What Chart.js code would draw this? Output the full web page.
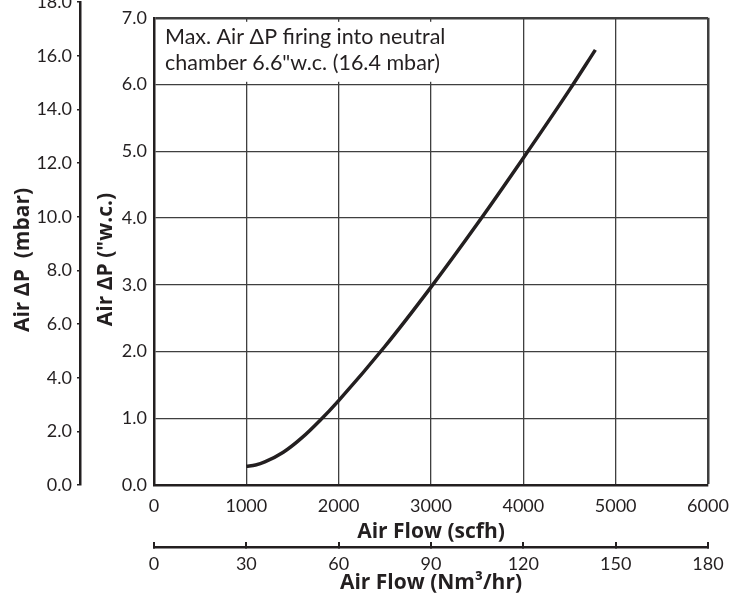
<!DOCTYPE html>
<html>
<head>
<meta charset="utf-8">
<script src="https://cdn.jsdelivr.net/npm/chart.js@4.4.0/dist/chart.umd.min.js"></script>
<style>
  html, body { margin: 0; padding: 0; background: #fff; }
  #wrap { width: 745px; height: 596px; }
</style>
</head>
<body>
<div id="wrap"><canvas id="myChart" width="745" height="596"></canvas></div>
<script>
// curve
const airFlowScfh = [1000, 1100, 1200, 1400, 1600, 1800, 2000, 2500, 3000, 3500, 4000, 4500, 4780];
const airDpWc     = [0.28, 0.30, 0.345, 0.49, 0.705, 0.97, 1.265, 2.075, 2.965, 3.91, 4.90, 5.92, 6.52];

// tick labels
const scfhTicks = [0, 1000, 2000, 3000, 4000, 5000, 6000];
const nm3Ticks  = [0, 30, 60, 90, 120, 150, 180];
const wcTicks   = [0, 1, 2, 3, 4, 5, 6, 7];
const mbarTicks = [0, 2, 4, 6, 8, 10, 12, 14, 16, 18];

const MBAR_PER_WC = 2.4884;
const noteLines = ['Max. Air \u0394P firing into neutral', 'chamber 6.6"w.c. (16.4 mbar)'];

const INK = '#231f20';
const GRID = '#3f3f3f';
const tickFont = { size: 18 };
const titleFont = { family: '"Open Sans", Lato, sans-serif', size: 21, weight: 'bold' };

Chart.defaults.font.family = 'Lato, "DejaVu Sans", sans-serif';
Chart.defaults.color = INK;

const toTicks = arr => scale => { scale.ticks = arr.map(v => ({ value: v })); };

// the mbar axis is the w.c. axis converted, so stretch it to match
const mbarAlign = {
  id: 'mbarAlign',
  afterLayout(chart) {
    const y = chart.scales.y;
    const mb = chart.scales.mbar;
    mb.bottom = y.getPixelForValue(0);
    mb.top = y.getPixelForValue(mbarTicks[mbarTicks.length - 1] / MBAR_PER_WC);
    mb.height = mb.bottom - mb.top;
    mb.configure();
  }
};

const noteBox = {
  id: 'noteBox',
  beforeDatasetsDraw(chart) {
    const { ctx, chartArea: a } = chart;
    ctx.save();
    ctx.font = '21.5px Lato, "DejaVu Sans", sans-serif';
    const w = Math.max(...noteLines.map(t => ctx.measureText(t).width));
    ctx.fillStyle = '#fff';
    ctx.fillRect(a.left + 2, a.top + 4, w + 17, 60);
    ctx.fillStyle = INK;
    ctx.textBaseline = 'alphabetic';
    noteLines.forEach((t, i) => ctx.fillText(t, a.left + 11, a.top + 26 + i * 26));
    ctx.restore();
  }
};

const ctx = document.getElementById('myChart').getContext('2d');
new Chart(ctx, {
  type: 'line',
  data: {
    datasets: [{
      data: airFlowScfh.map((v, i) => ({ x: v, y: airDpWc[i] })),
      borderColor: INK,
      borderWidth: 3.5,
      pointRadius: 0,
      fill: false,
      cubicInterpolationMode: 'monotone',
      xAxisID: 'x',
      yAxisID: 'y'
    }]
  },
  options: {
    responsive: false,
    animation: false,
    devicePixelRatio: 1,
    layout: { padding: { top: 13, right: 37, bottom: 0, left: 0 } },
    plugins: { legend: { display: false }, tooltip: { enabled: false } },
    scales: {
      x: {
        type: 'linear', position: 'bottom', weight: 0, min: 0, max: 6000,
        afterBuildTicks: toTicks(scfhTicks),
        afterFit: s => { s.height = 62; },
        ticks: { font: tickFont, padding: 10, color: INK, callback: v => String(v) },
        grid: {
          color: GRID, drawTicks: false,
          lineWidth: c => (c.tick && c.tick.value === 6000 ? 2.5 : 1.3)
        },
        border: { display: true, width: 2.5, color: INK },
        title: { display: true, text: 'Air Flow (scfh)', font: titleFont, color: INK, padding: { top: 0, bottom: 2 } }
      },
      x2: {
        type: 'linear', position: 'bottom', weight: 1, min: 0, max: 180,
        afterBuildTicks: toTicks(nm3Ticks),
        afterFit: s => { s.height = 49; },
        ticks: { font: tickFont, padding: 11, color: INK, callback: v => String(v) },
        grid: { drawOnChartArea: false, drawTicks: true, tickLength: -5, color: INK, lineWidth: 2 },
        border: { display: true, width: 2.5, color: INK },
        title: { display: true, text: 'Air Flow (Nm\u00b3/hr)', font: titleFont, color: INK, padding: { top: 0, bottom: 0 } }
      },
      y: {
        type: 'linear', position: 'left', weight: 0, min: 0, max: 7,
        afterBuildTicks: toTicks(wcTicks),
        afterFit: s => { s.width = 74; },
        ticks: { font: tickFont, padding: 7, color: INK, callback: v => v.toFixed(1) },
        grid: {
          color: GRID, drawTicks: false,
          lineWidth: c => (c.tick && c.tick.value === 7 ? 2.5 : 1.3)
        },
        border: { display: true, width: 2.5, color: INK },
        // trailing spaces nudge the rotated title down a little, as in the original
        title: { display: true, text: 'Air \u0394P ("w.c.)   ', font: titleFont, color: INK, padding: { top: 13, bottom: 0 } }
      },
      mbar: {
        type: 'linear', position: 'left', weight: 1, min: 0, max: 18,
        afterBuildTicks: toTicks(mbarTicks),
        afterFit: s => { s.width = 80; },
        ticks: { font: tickFont, padding: 5, color: INK, callback: v => v.toFixed(1) },
        grid: { drawOnChartArea: false, drawTicks: true, tickLength: 3, color: INK, lineWidth: 1.5 },
        border: { display: true, width: 2.5, color: INK },
        title: { display: true, text: 'Air \u0394P  (mbar)      ', font: titleFont, color: INK, padding: { top: 10, bottom: 0 } }
      }
    }
  },
  plugins: [mbarAlign, noteBox]
});
</script>
</body>
</html>
